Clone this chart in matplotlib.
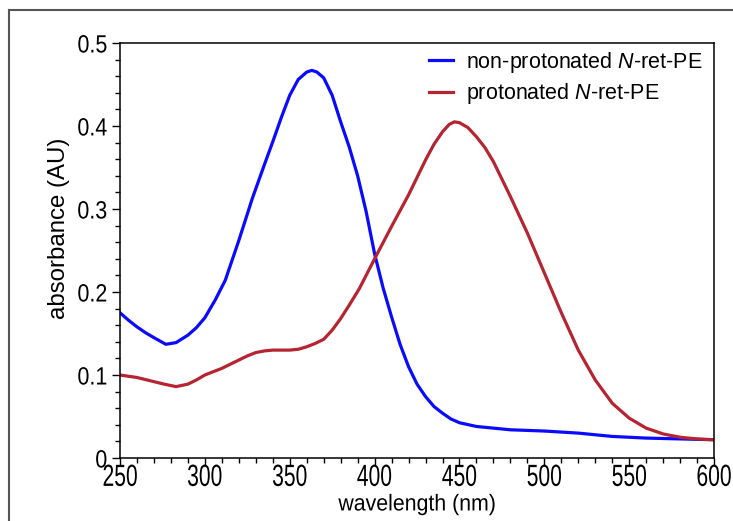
import matplotlib.pyplot as plt
from matplotlib.lines import Line2D
from matplotlib.patheffects import AbstractPathEffect
from matplotlib.ticker import MultipleLocator
from matplotlib.transforms import Affine2D

# absorbance spectra
wl_blue = [250, 255, 260, 265, 270, 277, 283, 290, 295, 300, 306, 312, 320, 328, 335, 340,
           345, 350, 355, 360, 363, 366, 370, 375, 380, 385, 390, 395, 400, 405, 410, 415,
           420, 425, 430, 435, 440, 445, 450, 460, 480, 500, 520, 540, 560, 580, 600]
abs_blue = [0.175, 0.166, 0.158, 0.151, 0.145, 0.137, 0.139, 0.148, 0.157, 0.169, 0.190, 0.214,
            0.262, 0.313, 0.353, 0.381, 0.410, 0.437, 0.456, 0.465, 0.467, 0.465, 0.458, 0.437,
            0.405, 0.375, 0.340, 0.297, 0.246, 0.205, 0.170, 0.137, 0.110, 0.089, 0.074, 0.062,
            0.054, 0.047, 0.0425, 0.038, 0.034, 0.0325, 0.030, 0.026, 0.024, 0.023, 0.022]

wl_red = [250, 260, 270, 276, 283, 290, 295, 300, 310, 320, 325, 330, 335, 340, 350, 355,
          360, 365, 370, 375, 380, 385, 391, 395, 400, 410, 420, 430, 435, 440, 444, 447,
          450, 455, 460, 465, 470, 480, 490, 500, 510, 520, 530, 540, 550, 560, 570, 580,
          590, 600]
abs_red = [0.100, 0.097, 0.092, 0.089, 0.086, 0.089, 0.094, 0.100, 0.108, 0.118, 0.123, 0.127,
           0.129, 0.130, 0.130, 0.131, 0.134, 0.138, 0.143, 0.154, 0.168, 0.184, 0.204, 0.220,
           0.240, 0.279, 0.317, 0.359, 0.378, 0.393, 0.402, 0.405, 0.404, 0.398, 0.387, 0.374,
           0.357, 0.315, 0.271, 0.223, 0.175, 0.130, 0.094, 0.066, 0.048, 0.036, 0.029, 0.025,
           0.023, 0.022]

labels = ['non-protonated $\\it{N}$-ret-PE', 'protonated $\\it{N}$-ret-PE']


class Squeeze(AbstractPathEffect):
    """draw text horizontally condensed (the original uses a narrow face)"""

    def __init__(self, sx, anchor='center'):
        super().__init__()
        self.sx = sx
        self.anchor = anchor

    def draw_path(self, renderer, gc, tpath, affine, rgbFace=None):
        ext = tpath.get_extents()
        if self.anchor == 'right':
            cx = ext.x1
        else:
            cx = (ext.x0 + ext.x1) / 2
        sq = Affine2D().translate(-cx, 0).scale(self.sx, 1).translate(cx, 0)
        renderer.draw_path(gc, tpath, sq + affine, rgbFace)


plt.rcParams['font.family'] = ['Liberation Sans', 'DejaVu Sans']
plt.rcParams['mathtext.fontset'] = 'custom'
plt.rcParams['mathtext.it'] = 'Liberation Sans:italic'
plt.rcParams['mathtext.rm'] = 'Liberation Sans'

fig = plt.figure(figsize=(7.33, 5.21), dpi=100)
ax = fig.add_axes([0.1637, 0.1209, 0.8105, 0.7966])

ax.plot(wl_blue, abs_blue, color='#0a0aff', lw=2.3, label=labels[0])
ax.plot(wl_red, abs_red, color='#b52430', lw=2.3, label=labels[1])

ax.set_xlim(250, 600)
ax.set_ylim(0, 0.5)
ax.xaxis.set_major_locator(MultipleLocator(50))
ax.xaxis.set_minor_locator(MultipleLocator(10))
ax.yaxis.set_major_locator(MultipleLocator(0.1))
ax.yaxis.set_minor_locator(MultipleLocator(0.02))
ax.yaxis.set_major_formatter(lambda v, p: '0' if abs(v) < 1e-9 else f'{v:.1f}')

ax.tick_params(which='major', direction='out', length=6, width=1)
ax.tick_params(which='minor', direction='out', length=3.5, width=1)
ax.tick_params(axis='x', which='major', pad=-2.5, labelsize=22)
ax.tick_params(axis='y', which='major', pad=3, labelsize=18)
for lab in ax.xaxis.get_majorticklabels():
    lab.set_path_effects([Squeeze(0.69)])
for lab in ax.yaxis.get_majorticklabels():
    lab.set_path_effects([Squeeze(0.86, 'right')])
for s in ax.spines.values():
    s.set_linewidth(1.1)

xl = ax.set_xlabel('wavelength (nm)', fontsize=16.5)
xl.set_path_effects([Squeeze(0.93)])
ax.set_ylabel('absorbance (AU)', fontsize=17.3)
ax.xaxis.set_label_coords(0.5, -0.083)
ax.yaxis.set_label_coords(-0.084, 0.554)

ax.legend(loc='upper right', bbox_to_anchor=(1.0, 1.012), frameon=False, fontsize=15.5,
          handlelength=1.1, handletextpad=0.6, labelspacing=0.3, borderaxespad=0.15)

# outer frame of the original panel (left and top edges)
fig.add_artist(Line2D([9 / 733, 9 / 733], [0, 1 - 10 / 521], color='#555555', lw=1.5))
fig.add_artist(Line2D([9 / 733, 1], [1 - 10 / 521, 1 - 10 / 521], color='#555555', lw=1.5))

fig.savefig('out.png', dpi=100)
